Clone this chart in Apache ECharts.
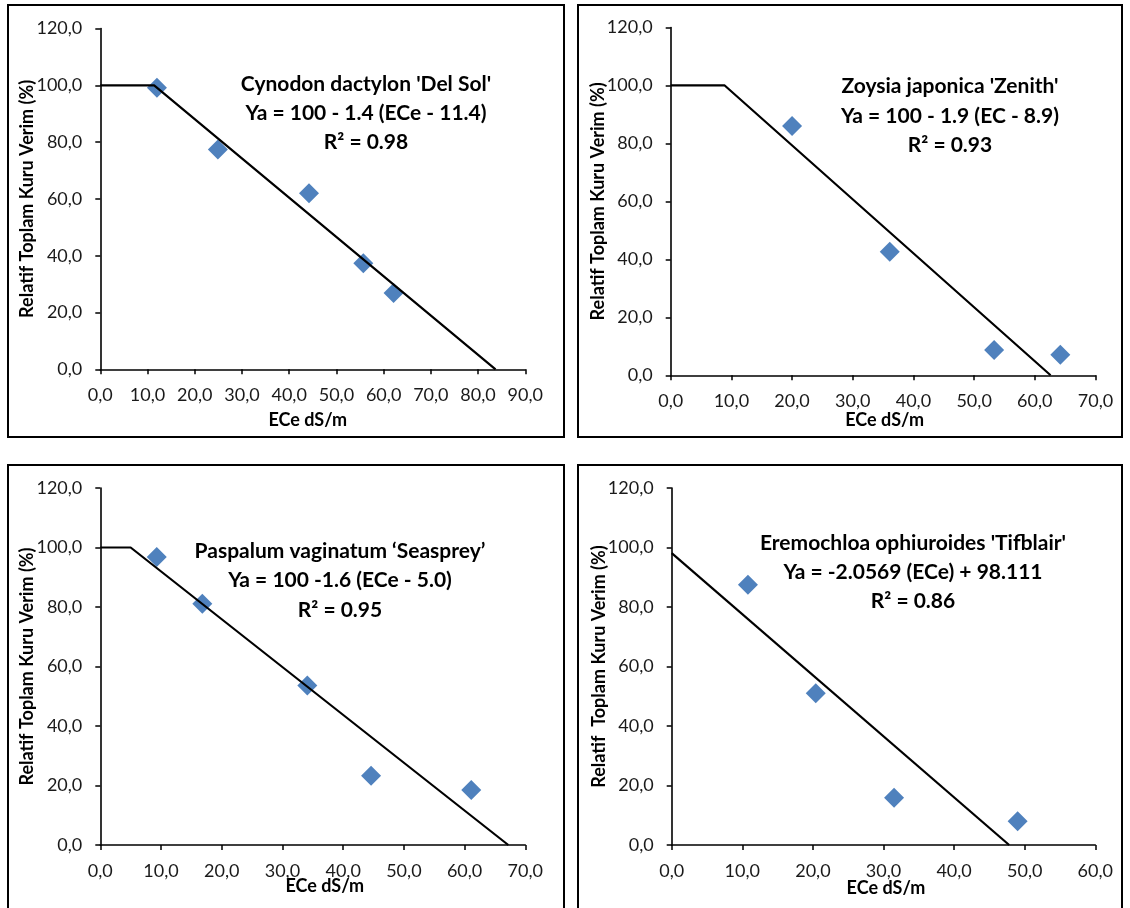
<!DOCTYPE html>
<html><head><meta charset="utf-8">
<script src="https://cdn.jsdelivr.net/npm/echarts@6/dist/echarts.min.js"></script>
<style>html,body{margin:0;padding:0;background:#fff}#c{width:1130px;height:908px}</style>
</head><body><div id="c"></div>
<script>
// ---- data ----
const speciesTitles = ["Cynodon dactylon 'Del Sol'", "Zoysia japonica 'Zenith'", "Paspalum vaginatum \u2018Seasprey\u2019", "Eremochloa ophiuroides 'Tifblair'"];
const equations = ["Ya = 100 - 1.4 (ECe - 11.4)", "Ya = 100 - 1.9 (EC - 8.9)", "Ya = 100 -1.6 (ECe - 5.0)", "Ya = -2.0569 (ECe) + 98.111"];
const r2Labels = ["R\u00B2 = 0.98", "R\u00B2 = 0.93", "R\u00B2 = 0.95", "R\u00B2 = 0.86"];
const yAxisTitles = ["Relatif Toplam Kuru Verim (%)", "Relatif Toplam Kuru Verim (%)", "Relatif Toplam Kuru Verim (%)", "Relatif  Toplam Kuru Verim (%)"];
const xAxisTitle = "ECe dS/m";

const cynodonECe = [12.0, 24.9, 44.2, 55.7, 62.1];
const cynodonYield = [99.1, 77.4, 62.0, 37.3, 26.9];
const zoysiaECe = [20.0, 36.1, 53.3, 64.2];
const zoysiaYield = [86.0, 42.6, 8.7, 7.1];
const paspalumECe = [9.3, 16.8, 34.1, 44.6, 61.1];
const paspalumYield = [96.8, 81.1, 53.6, 23.3, 18.5];
const eremochloaECe = [10.8, 20.4, 31.5, 49.0];
const eremochloaYield = [87.5, 51.0, 15.9, 8.0];

const cynodonFit = [[0, 100], [11.4, 100], [83.7, 0]];
const zoysiaFit = [[0, 100], [8.9, 100], [62.6, 0]];
const paspalumFit = [[0, 100], [5.0, 100], [67.2, 0]];
const eremochloaFit = [[0, 98.1], [47.8, 0]];

const xAxisMax = [90, 70, 70, 60];
const xAxisStep = 10;
const yAxisMax = 120;
const yAxisStep = 20;

// ---- layout ----
const pointsX = [cynodonECe, zoysiaECe, paspalumECe, eremochloaECe];
const pointsY = [cynodonYield, zoysiaYield, paspalumYield, eremochloaYield];
const fits = [cynodonFit, zoysiaFit, paspalumFit, eremochloaFit];

const grids = [
  {left: 100.3, top: 28.5, width: 425, height: 340.8},
  {left: 670.7, top: 27.5, width: 424.8, height: 347.8},
  {left: 100.3, top: 488, width: 425, height: 357},
  {left: 671.7, top: 488, width: 423.6, height: 357}
];
const notePos = [[366, 84, 113, 142], [950, 86, 116, 145], [340, 551, 580, 610], [913, 543, 572, 601]];
const xNameGap = [42, 36, 32, 34];
const xNamePad = [[0, 10, 0, 0], [0, 0, 0, 3], [0, 0, 0, 24], [0, 0, 0, 5]];
const boxes = [
  {x: 8, y: 5, width: 556, height: 432},
  {x: 578, y: 5, width: 544, height: 432},
  {x: 8, y: 465, width: 556, height: 460},
  {x: 578, y: 465, width: 544, height: 460}
];

const FONT = 'Lato, "Open Sans", sans-serif';
const fmt = v => v.toFixed(1).replace('.', ',');

const xAxes = [], yAxes = [], series = [], graphics = [];
for (let i = 0; i < 4; i++) {
  xAxes.push({
    gridIndex: i, type: 'value', min: 0, max: xAxisMax[i], interval: xAxisStep,
    name: xAxisTitle, nameLocation: 'middle', nameGap: xNameGap[i], nameMoveOverlap: false,
    nameTextStyle: {fontFamily: FONT, fontWeight: 'bold', fontSize: 18, color: '#000', padding: xNamePad[i]},
    axisLine: {onZero: false, lineStyle: {color: '#000', width: 1.6}},
    axisTick: {show: true, inside: false, length: 5, lineStyle: {color: '#000', width: 1.5}},
    axisLabel: {formatter: fmt, fontFamily: FONT, fontSize: 18, color: '#1a1a1a', margin: 17},
    splitLine: {show: false}
  });
  yAxes.push({
    gridIndex: i, type: 'value', min: 0, max: yAxisMax, interval: yAxisStep,
    name: yAxisTitles[i], nameLocation: 'middle', nameGap: 64, nameRotate: 90, nameMoveOverlap: false,
    nameTextStyle: {fontFamily: FONT, fontWeight: 'bold', fontSize: 18, color: '#000'},
    axisLine: {show: true, onZero: false, lineStyle: {color: '#000', width: 1.6}},
    axisTick: {show: true, inside: false, length: 5, lineStyle: {color: '#000', width: 1.5}},
    axisLabel: {formatter: fmt, fontFamily: FONT, fontSize: 18, color: '#1a1a1a', margin: 18},
    splitLine: {show: false}
  });
  series.push({
    type: 'line', xAxisIndex: i, yAxisIndex: i, data: fits[i],
    symbol: 'none', lineStyle: {color: '#000', width: 2.2}, z: 3, silent: true
  });
  series.push({
    type: 'scatter', xAxisIndex: i, yAxisIndex: i,
    data: pointsX[i].map((x, k) => [x, pointsY[i][k]]),
    symbol: 'diamond', symbolSize: 20,
    itemStyle: {color: '#4F81BD', opacity: 1}, z: 2
  });
  graphics.push({
    type: 'rect', shape: boxes[i], silent: true, z: 0,
    style: {fill: 'none', stroke: '#000', lineWidth: 2}
  });
  const lines = [speciesTitles[i], equations[i], r2Labels[i]];
  for (let j = 0; j < 3; j++) {
    graphics.push({
      type: 'text', x: notePos[i][0], y: notePos[i][j + 1], z: 10,
      style: {text: lines[j], fontFamily: FONT, fontWeight: 'bold', fontSize: 21, fill: '#000',
              align: 'center', verticalAlign: 'middle'}
    });
  }
}

const chart = echarts.init(document.getElementById('c'), null, {renderer: 'canvas'});
chart.setOption({
  animation: false,
  backgroundColor: '#fff',
  grid: grids.map(g => Object.assign({containLabel: false}, g)),
  xAxis: xAxes,
  yAxis: yAxes,
  series: series,
  graphic: graphics
});
</script>
</body></html>
